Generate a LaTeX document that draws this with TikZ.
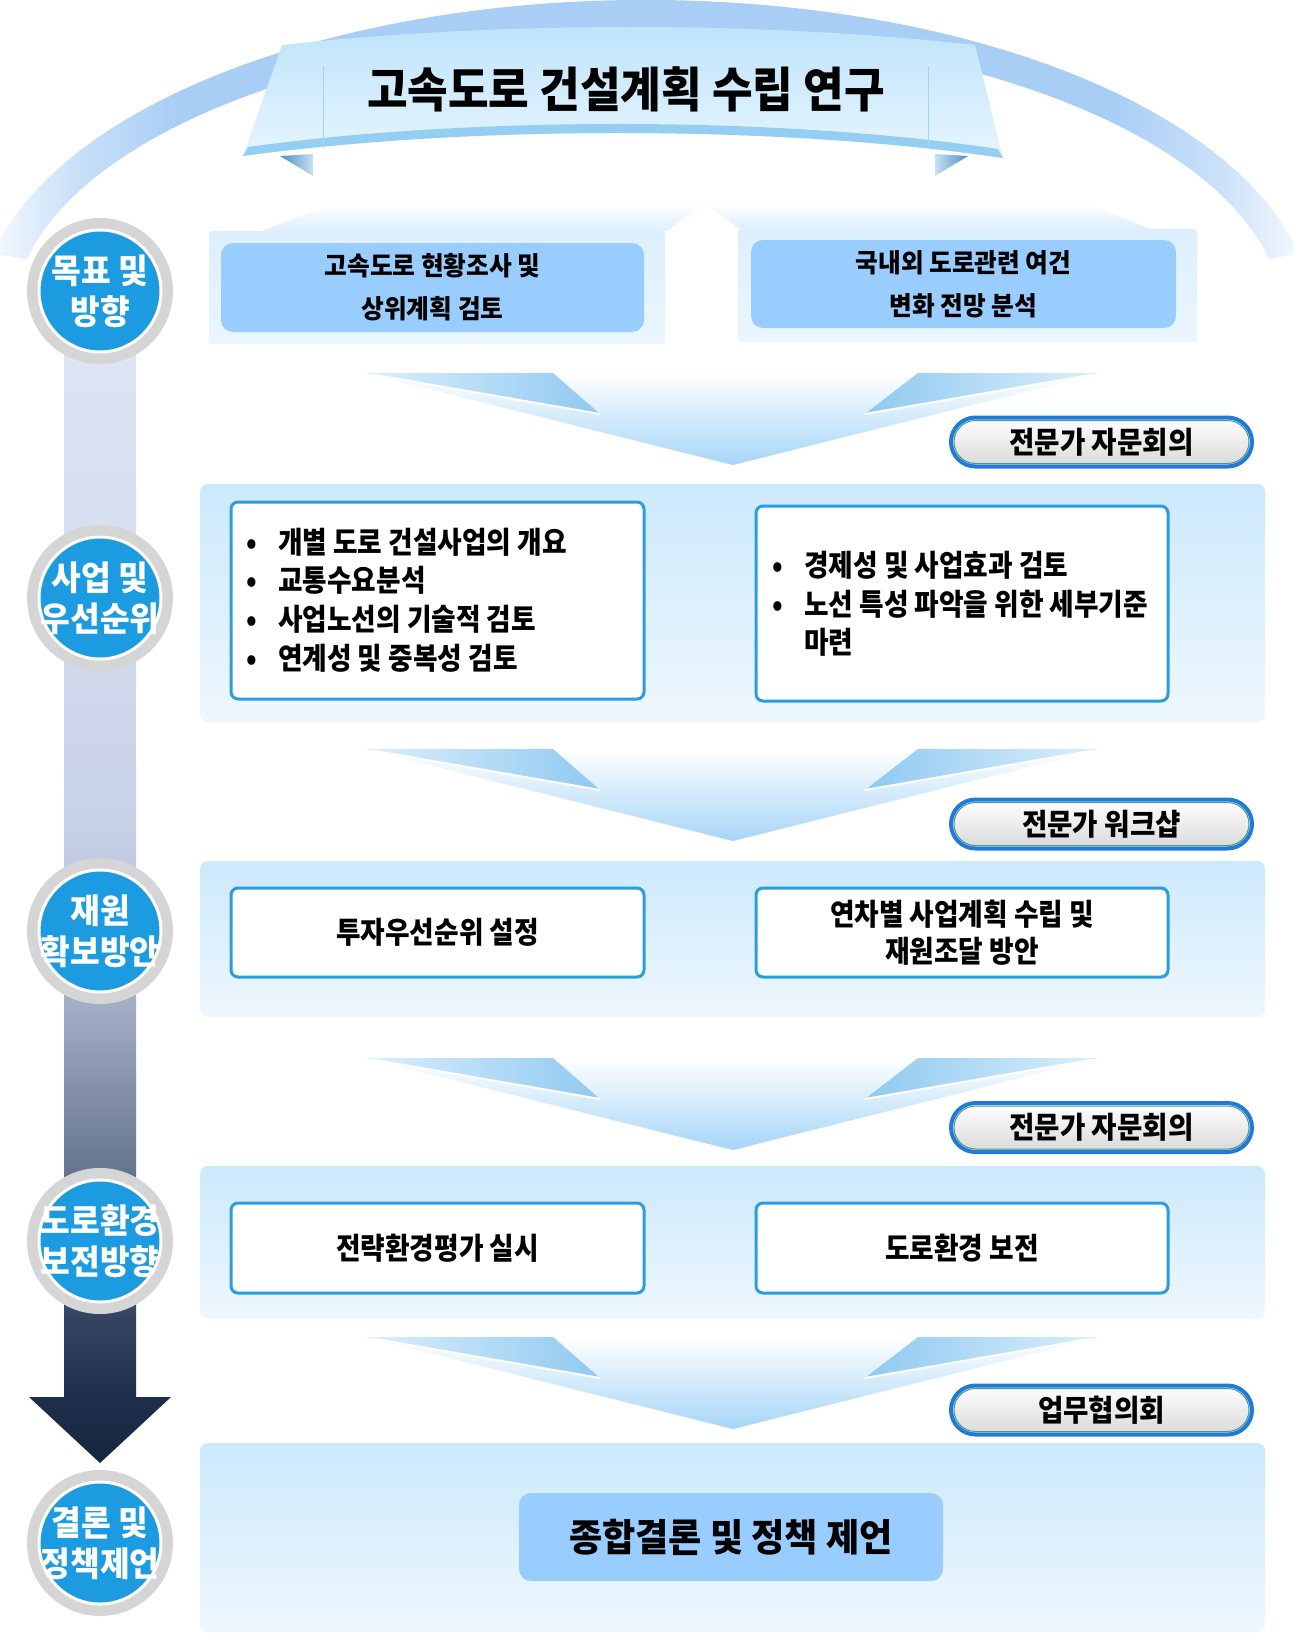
\documentclass[tikz,border=0pt]{standalone}
\usepackage{fontspec}
\newfontfamily\krt{Noto Sans CJK KR}[FakeStretch=0.89]
\newfontfamily\krm{Noto Sans CJK KR}[FakeStretch=0.92]
\newfontfamily\krc{Noto Sans CJK KR}[FakeStretch=0.95]
\usetikzlibrary{shapes.misc}
\definecolor{arcmid}{HTML}{A9CEF5}
\definecolor{arcmidb}{HTML}{CBE1F9}
\definecolor{arcend}{HTML}{F3F8FE}
\definecolor{bannertop}{HTML}{BEE3FB}
\definecolor{bannerbot}{HTML}{E6F5FE}
\definecolor{rimblue}{HTML}{95CEF3}
\definecolor{taildark}{HTML}{4F8EC2}
\definecolor{taillight}{HTML}{C6E1F4}
\definecolor{foldline}{HTML}{A5D2F0}
\definecolor{paneltop}{HTML}{DDEFFD}
\definecolor{panelbot}{HTML}{EAF6FE}
\definecolor{lightbox}{HTML}{99CCFF}
\definecolor{bandtop}{HTML}{CCE9FC}
\definecolor{bandbot}{HTML}{EEF7FE}
\definecolor{boxblue}{HTML}{2A9DE0}
\definecolor{stageblue}{HTML}{1D9BE0}
\definecolor{ringgray}{HTML}{D5D5D5}
\definecolor{chevblue}{HTML}{A6D5F7}
\definecolor{wingd}{HTML}{8FC9F1}
\definecolor{wingl}{HTML}{DCEFFC}
\definecolor{pillblue}{HTML}{2279DA}
\definecolor{pillteal}{HTML}{3F9E8A}
\definecolor{pillgray}{HTML}{D9D9D9}
\definecolor{barA}{HTML}{17263F}
\definecolor{barB}{HTML}{1F2E4B}
\definecolor{barC}{HTML}{34435F}
\definecolor{barD}{HTML}{6B7892}
\definecolor{barE}{HTML}{A4AFC6}
\definecolor{barF}{HTML}{C6D0E7}
\definecolor{barG}{HTML}{D4DCEE}
\definecolor{barH}{HTML}{DFE6F4}
\pgfdeclarehorizontalshading{arcshade}{100bp}{color(0bp)=(arcend); color(25bp)=(arcend); color(28bp)=(arcmidb); color(32bp)=(arcmid); color(68bp)=(arcmid); color(72bp)=(arcmidb); color(75bp)=(arcend); color(100bp)=(arcend)}
\pgfdeclareverticalshading{barshade}{100bp}{color(0bp)=(barA); color(25bp)=(barA); color(27.8bp)=(barB); color(31.1bp)=(barC); color(37.9bp)=(barD); color(44.7bp)=(barE); color(52bp)=(barF); color(61.8bp)=(barG); color(75bp)=(barH); color(100bp)=(barH)}
\tikzset{
  band/.style={rounded corners=8pt, top color=bandtop, bottom color=bandbot, inner sep=0pt},
  panel/.style={rounded corners=3pt, top color=paneltop, bottom color=panelbot, inner sep=0pt},
  bluebox/.style={fill=lightbox, rounded corners=12pt, inner sep=0pt, align=center},
  wbox/.style={draw=boxblue, line width=3pt, fill=white, rounded corners=7pt, inner sep=0pt},
  ring/.style={circle, fill=ringgray, minimum size=146pt, inner sep=0pt},
  stage/.style={circle, fill=stageblue, draw=white, line width=3pt, minimum size=122pt, inner sep=0pt},
  stagetext/.style={text=white, align=center, inner sep=0pt, font=\krc\bfseries\fontsize{34}{41}\selectfont},
  pill/.style={rounded rectangle, draw=pillblue, line width=4pt, top color=white, bottom color=pillgray, minimum width=301pt, minimum height=49pt, inner sep=0pt, font=\krm\bfseries\fontsize{30}{34}\selectfont},
  pillinner/.style={rounded rectangle, draw=pillteal, line width=1pt, minimum width=295pt, minimum height=43pt, inner sep=0pt},
  boxtext/.style={align=center, inner sep=0pt, font=\krt\bfseries\fontsize{30}{37}\selectfont},
  listtext/.style={align=left, inner sep=0pt, font=\krt\bfseries\fontsize{30}{38.7}\selectfont},
  toptext/.style={font=\krc\bfseries\fontsize{26}{43}\selectfont},
}
\newcommand\bul{\makebox[32pt][l]{•}}
\begin{document}
\begin{tikzpicture}[x=1pt,y=-1pt]
\useasboundingbox[fill=white] (0,0) rectangle (1293,1635);
% big arc
\path[shading=arcshade] (646,320) ++(192:667 and 320) arc[start angle=192,end angle=348,x radius=667,y radius=320] -- (1269.1,259.3) arc[start angle=348,end angle=192,x radius=635,y radius=288] -- cycle;
% banner
\path[left color=taildark, right color=taillight] (280,156) -- (313,154) -- (313,176) -- cycle;
\path[right color=taildark, left color=taillight] (968,156) -- (935,154) -- (935,176) -- cycle;
\path[top color=bannertop, bottom color=bannerbot] (282,45) .. controls (500,21) and (760,21) .. (975,45) -- (1003,158) .. controls (780,125) and (470,125) .. (243,156) -- cycle;
\fill[rimblue] (243,156) .. controls (470,125) and (780,125) .. (1003,158) -- (998,149) .. controls (780,116) and (470,116) .. (248,147) -- cycle;
\draw[foldline, line width=1pt] (323,66) -- (323,148);
\draw[foldline, line width=1pt] (928,66) -- (928,148);
\node[font=\krm\bfseries\fontsize{48}{58}\selectfont] (title) at (626,89) {고속도로 건설계획 수립 연구};
% faded shapes above top panels
\path[top color=white, bottom color=paneltop] (262,231) -- (335,203) -- (705,203) -- (667,231) -- cycle;
\path[top color=white, bottom color=paneltop] (740,229) -- (705,203) -- (1085,203) -- (1150,229) -- cycle;
% top panels
\node[panel, minimum width=456pt, minimum height=113pt] (pl) at (437,287.5) {};
\node[panel, minimum width=459pt, minimum height=113pt] (pr) at (967.5,285.5) {};
\node[bluebox, minimum width=423pt, minimum height=89pt, toptext] (ul) at (432.5,287.5) {고속도로 현황조사 및\\상위계획 검토};
\node[bluebox, minimum width=425pt, minimum height=88pt, toptext] (ur) at (963.5,284) {국내외 도로관련 여건\\변화 전망 분석};
% vertical bar with arrow
\path[shading=barshade] (64,291) -- (136,291) -- (136,1397) -- (171,1397) -- (100,1463) -- (29,1397) -- (64,1397) -- cycle;
% stages
\foreach \n/\y in {1/291,2/598,3/931,4/1241,5/1543} {
  \node[ring] (r\n) at (100,\y) {};
  \node[stage] (s\n) at (100,\y) {};
}
\node[stagetext] (t1) at (s1) {목표 및\\방향};
\node[stagetext] (t2) at (s2) {사업 및\\우선순위};
\node[stagetext] (t3) at (s3) {재원\\확보방안};
\node[stagetext] (t4) at (s4) {도로환경\\보전방향};
\node[stagetext] (t5) at (s5) {결론 및\\정책제언};
% bands
\node[band, minimum width=1065pt, minimum height=238pt] (b2) at (732.5,603) {};
\node[band, minimum width=1065pt, minimum height=156pt] (b3) at (732.5,939) {};
\node[band, minimum width=1065pt, minimum height=153pt] (b4) at (732.5,1242.5) {};
\node[band, minimum width=1065pt, minimum height=189pt] (b5) at (732.5,1537.5) {};
% boxes
\node[wbox, minimum width=413pt, minimum height=197pt] (x2l) at (437.5,600.5) {};
\node[wbox, minimum width=412pt, minimum height=195pt] (x2r) at (962,603.5) {};
\node[listtext, anchor=west] (l2l) at (246,600) {\bul 개별 도로 건설사업의 개요\\\bul 교통수요분석\\\bul 사업노선의 기술적 검토\\\bul 연계성 및 중복성 검토};
\node[listtext, anchor=west] (l2r) at (772,604) {\bul 경제성 및 사업효과 검토\\\bul 노선 특성 파악을 위한 세부기준\\\makebox[32pt]{}마련};
\node[wbox, minimum width=413pt, minimum height=89pt, boxtext] (x3l) at (437.5,932.5) {투자우선순위 설정};
\node[wbox, minimum width=412pt, minimum height=89pt, boxtext] (x3r) at (962,932.5) {연차별 사업계획 수립 및\\재원조달 방안};
\node[wbox, minimum width=413pt, minimum height=90pt, boxtext] (x4l) at (437.5,1248) {전략환경평가 실시};
\node[wbox, minimum width=412pt, minimum height=90pt, boxtext] (x4r) at (962,1248) {도로환경 보전};
\node[bluebox, minimum width=424pt, minimum height=88pt, font=\krc\bfseries\fontsize{38}{44}\selectfont] (x5) at (731,1537) {종합결론 및 정책 제언};
% chevrons
\foreach \T in {373,749,1058,1337} {
  \path[top color=white, bottom color=chevblue] (365,\T) -- (1100,\T) -- (733,{\T+92}) -- cycle;
  \path[left color=wingl, right color=wingd] (365,\T) -- (553,\T) -- (600,{\T+41}) -- cycle;
  \path[left color=wingd, right color=wingl] (1100,\T) -- (918,\T) -- (865,{\T+41}) -- cycle;
  \draw[white, line width=2pt] (375,{\T+2}) -- (600,{\T+41});
  \draw[white, line width=2pt] (1090,{\T+2}) -- (865,{\T+41});
}
% pills
\foreach \n/\y in {1/442,2/824,3/1127.5,4/1410} {
  \node[pill] (p\n) at (1101.5,\y) {};
  \node[pillinner] (q\n) at (p\n) {};
}
\node[inner sep=0pt, font=\krm\bfseries\fontsize{30}{34}\selectfont] (pt1) at (p1) {전문가 자문회의};
\node[inner sep=0pt, font=\krm\bfseries\fontsize{30}{34}\selectfont] (pt2) at (p2) {전문가 워크샵};
\node[inner sep=0pt, font=\krm\bfseries\fontsize{30}{34}\selectfont] (pt3) at (p3) {전문가 자문회의};
\node[inner sep=0pt, font=\krm\bfseries\fontsize{30}{34}\selectfont] (pt4) at (p4) {업무협의회};
\end{tikzpicture}
\end{document}
